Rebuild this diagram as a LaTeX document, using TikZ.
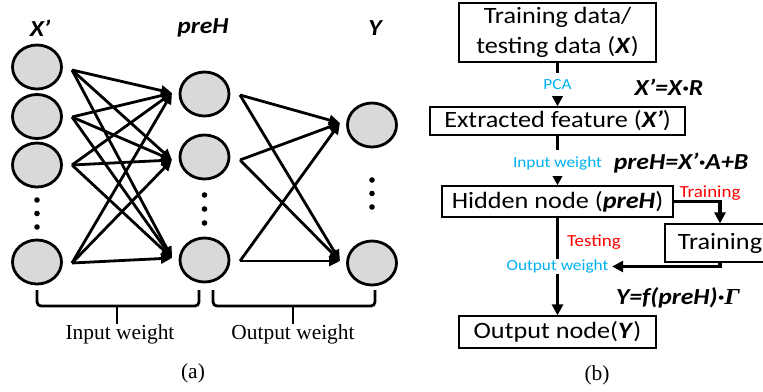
\documentclass[tikz,border=0pt]{standalone}
\usepackage{fontspec}
\usepackage{graphicx}
\setmainfont{Liberation Serif}
\newfontfamily\calf{Carlito}
\usetikzlibrary{arrows.meta,shapes.geometric}
\definecolor{cfill}{RGB}{217,217,217}
\definecolor{cblue}{RGB}{0,176,240}
\definecolor{cred}{RGB}{255,0,0}
\newcommand{\hs}[1]{\scalebox{1.12}[1]{#1}}
\newcommand{\bi}[1]{\textbf{\textit{#1}}}
\tikzset{
  neuron/.style={ellipse, draw, line width=2.8bp, fill=cfill, minimum width=49bp, minimum height=44bp, inner sep=0pt},
  netarrow/.style={line width=2.8bp, -{Triangle[length=11bp,width=10bp]}},
  bracepath/.style={line width=2.8bp, rounded corners=4bp},
  fbox/.style={draw, line width=1.2bp, inner sep=0pt, align=center, font=\calf\fontsize{23.5}{30}\selectfont},
  flow/.style={line width=3.5bp, -{Triangle[length=11bp,width=11bp]}},
  bluelbl/.style={fill=white, inner xsep=2bp, text=cblue, font=\calf\fontsize{15.5}{18}\selectfont},
  redlbl/.style={text=cred, inner sep=0pt, font=\calf\fontsize{17}{20}\selectfont},
  formula/.style={inner sep=0pt, font=\calf\fontsize{23}{26}\selectfont\bfseries\itshape},
  serlbl/.style={inner sep=0pt, font=\fontsize{21.5}{24}\selectfont},
}
\begin{document}
\begin{tikzpicture}[x=1bp,y=-1bp]
\useasboundingbox (0,0) rectangle (763,391);
% ---------- (a) network ----------
\node[formula] (lx) at (40,28) {\hs{X’}};
\node[formula] (lh) at (203,28) {\hs{preH}};
\node[formula] (ly) at (375,28) {\hs{Y}};

\node[neuron] (x1) at (37,67) {};
\node[neuron] (x2) at (37,116.5) {};
\node[neuron] (x3) at (37,165) {};
\node[neuron] (x4) at (37,262) {};
\node[neuron] (h1) at (204.5,94) {};
\node[neuron] (h2) at (204.5,157) {};
\node[neuron] (h3) at (204.5,260) {};
\node[neuron] (y1) at (372,125) {};
\node[neuron] (y2) at (372,263) {};

\foreach \yy in {200,213.5,227} \fill (37,\yy) circle (2.8bp);
\foreach \yy in {195,209,223} \fill (204.5,\yy) circle (2.8bp);
\foreach \yy in {180,193.5,207} \fill (372,\yy) circle (2.8bp);

\coordinate (xo1) at (72,70);
\coordinate (xo2) at (72,117);
\coordinate (xo3) at (72,165);
\coordinate (xo4) at (72,263);
\coordinate (hi1) at (172,93);
\coordinate (hi2) at (172,160);
\coordinate (hi3) at (172,258);
\coordinate (ho1) at (240,95);
\coordinate (ho2) at (240,160);
\coordinate (ho3) at (240,261);
\coordinate (yi1) at (340,123);
\coordinate (yi2) at (340,261);
\foreach \a in {1,2,3,4} \foreach \b in {1,2,3} \draw[netarrow] (xo\a) -- (hi\b);
\foreach \a in {1,2,3} \foreach \b in {1,2} \draw[netarrow] (ho\a) -- (yi\b);

\draw[bracepath] (37,290) -- (37,306) -- (199,306) -- (199,290);
\draw[line width=2.8bp] (117,306) -- (117,324);
\draw[bracepath] (213,290) -- (213,306) -- (375,306) -- (375,290);
\draw[line width=2.8bp] (293,306) -- (293,324);
\node[serlbl] (iw) at (120,334) {Input weight};
\node[serlbl] (owl) at (293,334) {Output weight};
\node[serlbl] (ca) at (193,373) {(a)};

% ---------- (b) flow chart ----------
\node[fbox, minimum width=197bp, minimum height=59bp] (b1) at (557.5,32.5) {\hs{Training data/}\\\hs{testing data (\bi{X})}};
\node[fbox, minimum width=255bp, minimum height=28bp] (b2) at (557.5,121) {\hs{Extracted feature (\bi{X’})}};
\node[fbox, minimum width=231bp, minimum height=31bp] (b3) at (557.5,201.5) {\hs{Hidden node (\bi{preH})}};
\node[fbox, minimum width=110bp, minimum height=38bp] (b4) at (720,243) {\hs{Training}};
\node[fbox, minimum width=197bp, minimum height=32bp] (b5) at (557.5,332) {\hs{Output node(\bi{Y})}};

\draw[flow] (b1) -- node[bluelbl, inner ysep=6.5bp] (pca) {\hs{PCA}} (b2);
\draw[flow] (b2) -- node[bluelbl, inner ysep=6bp, pos=0.55] (inw) {\hs{Input weight}} (b3);
\draw[flow] (b3) -- node[bluelbl, inner ysep=1bp] (ow) {\hs{Output weight}} (b5);
\draw[flow] (b3.east) -| (b4.north);
\draw[flow] (b4.south) |- (ow.east);

\node[redlbl] (tr) at (710,193) {\hs{Training}};
\node[redlbl] (te) at (594,242) {\hs{Testing}};
\node[formula] (f1) at (669,87) {\hs{X’=X·R}};
\node[formula] (f2) at (681,163) {\hs{preH=X’·A+B}};
\node[formula] (f3) at (678,298) {\hs{Y=f(preH)·{\rmfamily Γ}}};
\node[serlbl] (cb) at (597,375) {(b)};
\end{tikzpicture}
\end{document}
